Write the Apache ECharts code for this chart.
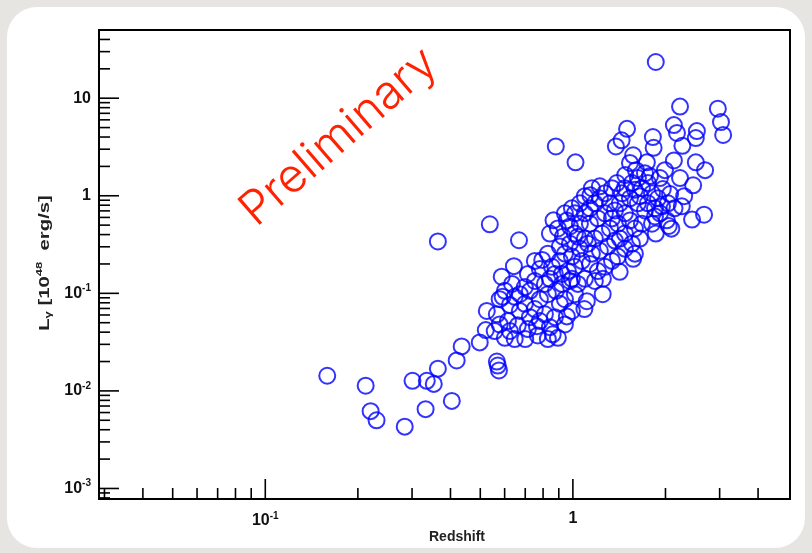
<!DOCTYPE html>
<html><head><meta charset="utf-8">
<script src="https://cdn.jsdelivr.net/npm/echarts@6/dist/echarts.min.js"></script>
<style>html,body{margin:0;padding:0;background:#e6e4e0;}#c{width:812px;height:553px;}</style>
</head><body><div id="c"></div>
<script>
// ---- data: [redshift, L_gamma (1e48 erg/s)] ----
const lowTail = [[0.159,0.0143],[0.212,0.0113],[0.220,0.0062],[0.230,0.0050],[0.284,0.0043],[0.301,0.0127],[0.332,0.0065],[0.335,0.0127],[0.353,0.0118],[0.364,0.0169],[0.404,0.0079],[0.419,0.0205],[0.435,0.0286],[0.498,0.0314],[0.521,0.042],[0.566,0.0200],[0.570,0.0182],[0.575,0.0162]];
const midOutliers = [[0.364,0.34],[0.537,0.51],[0.668,0.35],[0.643,0.19],[0.88,3.2],[1.02,2.2],[0.587,0.148],[0.795,0.22],[0.829,0.255],[0.781,0.178],[0.752,0.215],[0.714,0.158]];
const lowerCore = [[0.578,0.087],[0.601,0.106],[0.624,0.076],[0.647,0.092],[0.672,0.066],[0.698,0.078],[0.725,0.057],[0.752,0.069],[0.781,0.052],[0.811,0.061],[0.842,0.045],[0.874,0.057],[0.907,0.078],[0.942,0.048],[0.894,0.035],[0.829,0.034],[0.769,0.037],[0.714,0.043],[0.662,0.047],[0.615,0.052],[0.578,0.048],[0.557,0.041],[0.601,0.035],[0.647,0.034],[0.672,0.098],[0.725,0.106],[0.781,0.087],[0.829,0.098],[0.881,0.106],[0.942,0.087],[0.993,0.066],[1.015,0.098],[1.038,0.125],[0.978,0.134],[0.921,0.158],[0.855,0.187],[0.811,0.125],[0.752,0.134],[0.698,0.116],[0.634,0.125],
  [0.842,0.141],[0.591,0.092],[0.525,0.066],[0.566,0.061],[0.956,0.058],[1.25,0.098],[1.11,0.083],[1.09,0.069],[0.86,0.038],[0.70,0.034],[0.764,0.046],[0.624,0.041]];
const mainCore = [[0.942,0.255],[0.978,0.323],[1.015,0.410],[1.054,0.517],[1.094,0.660],[1.136,0.743],[1.179,0.837],[1.224,0.942],[1.271,1.06],[1.320,0.837],[1.370,0.707],[1.422,0.837],[1.476,0.660],[1.533,0.559],[1.591,0.462],[1.652,0.364],[1.556,0.323],[1.476,0.287],[1.401,0.238],[1.340,0.215],[1.271,0.187],[1.206,0.169],[1.136,0.200],[1.070,0.215],[1.015,0.187],[0.963,0.169],[0.993,0.238],[1.054,0.287],[1.119,0.323],[1.179,0.364],[1.243,0.410],[1.320,0.462],[1.401,0.517],[1.476,0.410],[1.370,0.347],[1.300,0.302],[1.224,0.273],[1.153,0.255],[1.094,0.364],[1.038,0.381],[0.978,0.485],[0.928,0.381],[0.907,0.302],[0.942,0.660],[0.993,0.743],[1.054,0.837],[1.136,0.517],[1.206,0.586],[1.271,0.660],[1.340,0.586],[1.422,0.364],[1.591,0.255],[1.677,0.517],[1.715,0.707],[1.627,0.837],[1.533,0.942],[1.444,1.06],[1.340,1.195],[1.224,1.25],[1.153,1.195],[1.094,0.99],[1.015,0.660],[0.956,0.559],[0.894,0.462],[0.907,0.215],[0.874,0.158],[0.921,0.125],[0.993,0.141],[1.094,0.141],[1.179,0.134],[1.252,0.141],[1.808,0.517]];
const upperBand = [[1.476,1.195],[1.556,1.35],[1.627,1.52],[1.677,1.195],[1.754,1.35],[1.808,1.06],[1.891,0.942],[1.948,0.779],[1.849,0.743],[1.754,0.837],[1.652,0.99],[1.591,1.15],[1.715,1.70],[1.781,1.59],[1.919,1.52],[1.992,1.83],[1.603,1.83],[1.533,2.17],[1.919,0.660],[2.037,0.837],[2.14,0.743],[2.26,0.779],[1.849,0.614]];
const upperRight = [[1.86,23.5],[2.23,8.2],[2.96,7.8],[3.03,5.7],[3.08,4.2],[2.13,5.3],[2.18,4.4],[2.53,4.6],[2.51,3.9],[2.27,3.25],[1.82,4.0],[1.83,3.1],[1.50,4.85],[1.44,3.7],[1.38,3.2],[1.57,2.6],[1.74,2.2],[2.13,2.3],[2.51,2.2],[2.69,1.83],[2.23,1.52],[2.46,1.28],[1.48,1.63],[1.39,1.35],[2.30,0.99],[2.07,1.04],[1.96,1.17],[2.44,0.57],[2.67,0.64],[2.02,0.56],[2.05,0.49],[1.86,0.41],[2.09,0.46],[1.14,1.01],[0.865,0.56],[0.842,0.41],[1.42,0.166],[1.57,0.226]];

// ---- axes ----
const X_MIN = 0.0288, X_MAX = 5.08;
const Y_MIN = 7.8e-4, Y_MAX = 50;
const xMajorTicks = [0.1, 1];
const xMinorTicks = [0.03,0.04,0.05,0.06,0.07,0.08,0.09,0.2,0.3,0.4,0.5,0.6,0.7,0.8,0.9,2,3,4];
const yMajorTicks = [0.001,0.01,0.1,1,10];
const yMinorTicks = [0.0008,0.0009,0.002,0.003,0.004,0.005,0.006,0.007,0.008,0.009,0.02,0.03,0.04,0.05,0.06,0.07,0.08,0.09,0.2,0.3,0.4,0.5,0.6,0.7,0.8,0.9,2,3,4,5,6,7,8,9,20,30,40];
const xTickValues = [0.1, 1];
const xTickLabels = ['{b|10}{s|-1}', '{b|1}'];
const yTickValues = [0.001,0.01,0.1,1,10];
const yTickLabels = ['{b|10}{s|-3}','{b|10}{s|-2}','{b|10}{s|-1}','{b|1}','{b|10}'];
const xTitle = 'Redshift';
const yTitle = '{b|L}{sub|γ}{b| [10}{s|48}{b|  erg/s]}';

function labelFor(values, labels) {
  return function (v) {
    for (let i = 0; i < values.length; i++) {
      if (Math.abs(Math.log10(v) - Math.log10(values[i])) < 1e-6) return labels[i];
    }
    return '';
  };
}
const FONT = 'Liberation Sans, Arial, sans-serif';
const rich = {
  b: {fontFamily: FONT, fontSize: 16, color: '#111', fontWeight: 'bold'},
  s: {fontFamily: FONT, fontSize: 10, color: '#111', fontWeight: 'bold', padding: [0,0,10,0]}
};

const allPoints = [].concat(lowTail, midOutliers, lowerCore, mainCore, upperBand, upperRight);

const chart = echarts.init(document.getElementById('c'), null, {renderer: 'canvas'});
chart.setOption({
  backgroundColor: '#e7e5e1',
  animation: false,
  graphic: [
    {type: 'rect', z: -10, shape: {x: 7, y: 7, width: 798, height: 541, r: 30}, style: {fill: '#ffffff'}},
    {type: 'text', z: 50, x: 339, y: 137, rotation: 41 * Math.PI / 180,
     style: {text: 'Preliminary', fill: '#ff2200', font: '300 47px Inter, "DejaVu Sans", sans-serif', align: 'center', verticalAlign: 'middle'}},
    {type: 'text', z: 50, x: 457, y: 537,
     style: {text: xTitle, fill: '#222', font: 'bold 14px ' + FONT, align: 'center', verticalAlign: 'middle'}},
    {type: 'text', z: 50, x: 45, y: 263, rotation: Math.PI / 2, scaleX: 1.45,
     style: {text: yTitle, align: 'center', verticalAlign: 'middle', rich: {
      b: {fontFamily: FONT, fontSize: 14, fontWeight: 'bold', fill: '#222', color: '#222'},
      sub: {fontFamily: FONT, fontSize: 9, fontWeight: 'bold', fill: '#222', color: '#222', padding: [8,0,0,0]},
      s: {fontFamily: FONT, fontSize: 9, fontWeight: 'bold', fill: '#222', color: '#222', padding: [0,0,10,0]}
    }}}
  ],
  grid: {left: 99, right: 22, top: 30, bottom: 54, show: true, borderColor: '#000', borderWidth: 2, backgroundColor: 'transparent'},
  xAxis: {
    type: 'log', logBase: 10, min: X_MIN, max: X_MAX,
    axisLine: {show: false}, axisTick: {show: false}, splitLine: {show: false}, minorTick: {show: false},
    axisLabel: {formatter: labelFor(xTickValues, xTickLabels), rich: rich, margin: 12, showMinLabel: false, showMaxLabel: false}
  },
  yAxis: {
    type: 'log', logBase: 10, min: Y_MIN, max: Y_MAX,
    axisLine: {show: false}, axisTick: {show: false}, splitLine: {show: false}, minorTick: {show: false},
    axisLabel: {formatter: labelFor(yTickValues, yTickLabels), rich: rich, margin: 8, showMinLabel: false, showMaxLabel: false}
  },
  series: [
    {
      type: 'scatter', data: allPoints, symbol: 'circle', symbolSize: 16, z: 5,
      itemStyle: {color: 'rgba(0,0,0,0)', borderColor: '#0000ff', borderWidth: 2},
      emphasis: {disabled: true}, silent: true
    },
    {
      type: 'custom', silent: true, clip: false, z: 6,
      data: xMajorTicks.map(v => [v, Y_MIN, 1]).concat(xMinorTicks.map(v => [v, Y_MIN, 0])),
      encode: {x: 0, y: 1},
      renderItem: function (params, api) {
        const p = api.coord([api.value(0), api.value(1)]);
        const len = api.value(2) ? 20 : 11;
        return {type: 'line', shape: {x1: p[0], y1: p[1], x2: p[0], y2: p[1] - len}, style: {stroke: '#000', lineWidth: 1.6}};
      }
    },
    {
      type: 'custom', silent: true, clip: false, z: 6,
      data: yMajorTicks.map(v => [X_MIN, v, 1]).concat(yMinorTicks.map(v => [X_MIN, v, 0])),
      encode: {x: 0, y: 1},
      renderItem: function (params, api) {
        const p = api.coord([api.value(0), api.value(1)]);
        const len = api.value(2) ? 20 : 11;
        return {type: 'line', shape: {x1: p[0], y1: p[1], x2: p[0] + len, y2: p[1]}, style: {stroke: '#000', lineWidth: 1.6}};
      }
    }
  ]
});
</script></body></html>
